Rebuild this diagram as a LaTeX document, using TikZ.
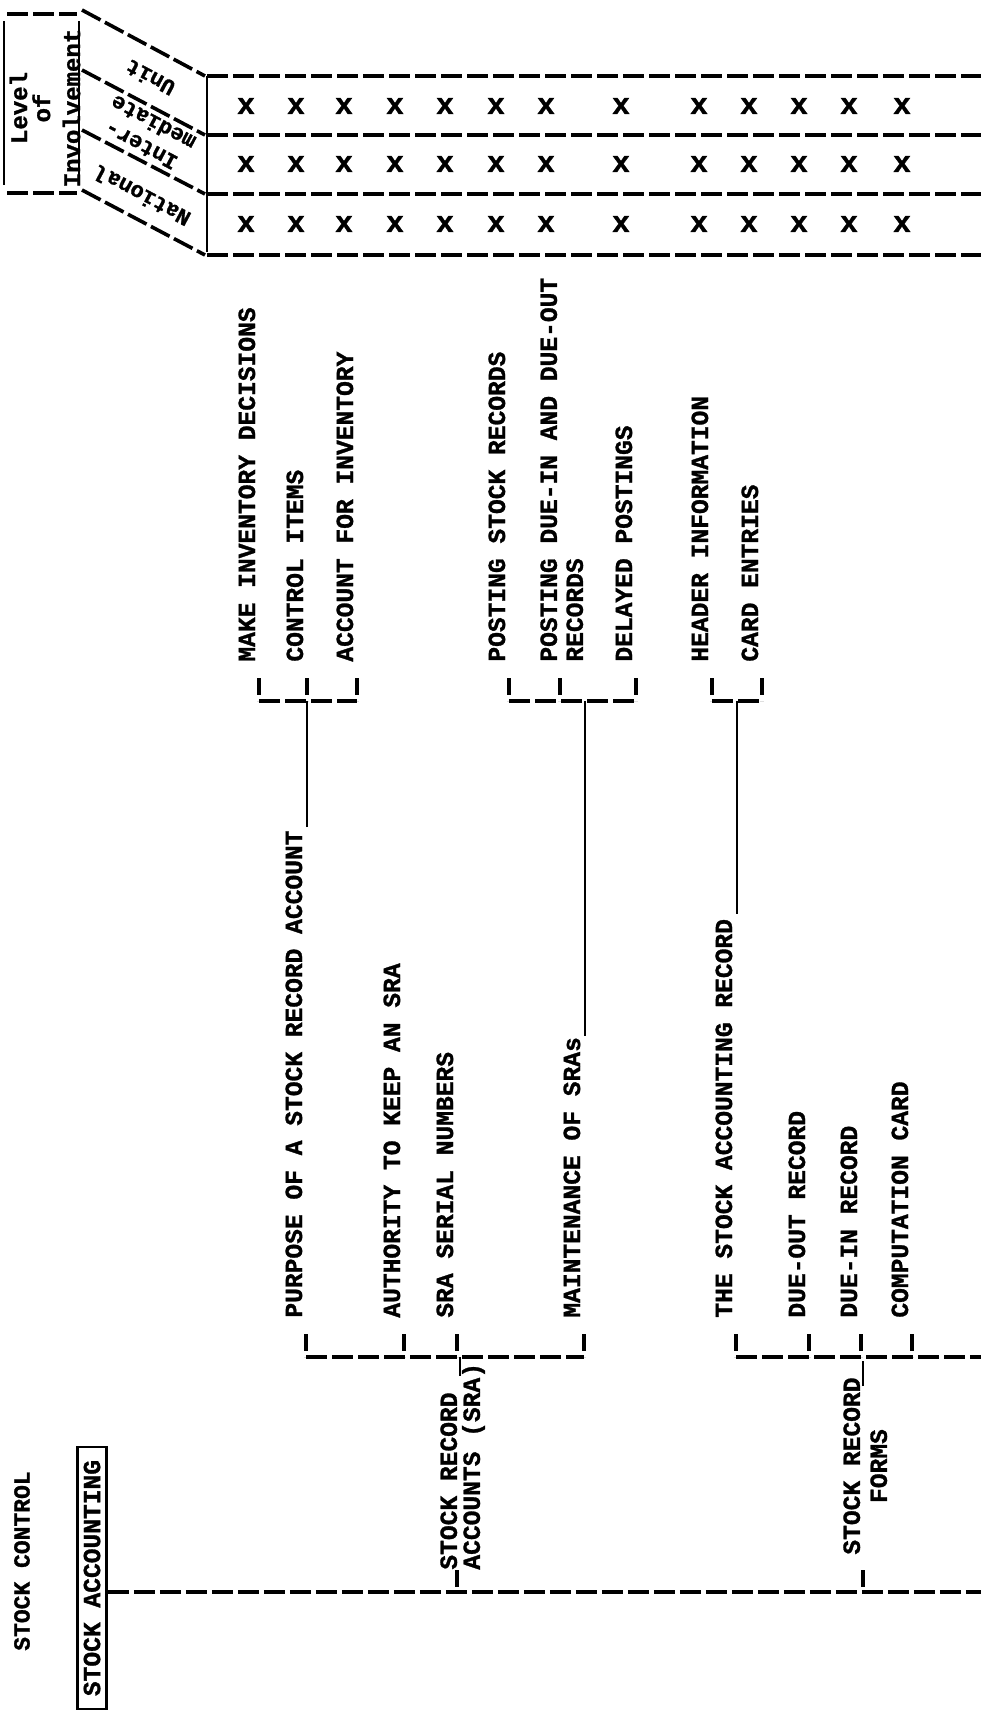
\documentclass[tikz,border=0pt]{standalone}
\usepackage{fontspec}
\newfontfamily\typefont[BoldFeatures={FakeBold=1.2}]{Liberation Mono}
\usetikzlibrary{positioning,calc}

\tikzset{
  dline/.style={line width=1.8pt, dash pattern=on 10.5pt off 2.5pt},
  tickline/.style={line width=1.8pt, dash pattern=on 8.5pt off 3pt},
  sline/.style={line width=1.4pt},
  item/.style={rotate=90, anchor=base west, inner sep=0pt,
    font=\typefont\bfseries\fontsize{12.3}{13}\selectfont},
  twoline/.style={item, anchor=north west, align=left},
  level/.style={rotate=152, inner sep=0pt, align=center,
    font=\typefont\bfseries\fontsize{11}{13}\selectfont},
  xmark/.style={inner sep=0pt, font=\typefont\bfseries\fontsize{15}{15}\selectfont},
  stubtop/.style={xshift=2pt, yshift=-8pt},
  stubfoot/.style={xshift=2pt, yshift=-19.5pt}
}

\begin{document}
\begin{tikzpicture}[x=0.5pt, y=-0.5pt]
  \useasboundingbox (0,0) rectangle (981,1714);

  % Level of involvement header
  \draw[sline] (4,21) -- (4,185) (79,21) -- (79,185);
  \draw[dline] (7,14) -- (77,14) (7,193) -- (77,193);
  \node[rotate=90, inner sep=0pt, align=center,
    font=\typefont\bfseries\fontsize{12}{11.5}\selectfont] (lvl) at (45,108)
    {Level\\of\\[3.5pt]Involvement};
  \foreach \a/\b in {10/76, 70/135, 130/194, 190/255}
    \draw[dline] (82,\a) -- (205,\b);
  \foreach \y in {76,135,194,255}
    \draw[dline] (207,\y) -- (981,\y);
  \draw[sline] (207,76) -- (207,252);
  \node[level] (unit) at (150,78) {Unit};
  \node[level] (inter) at (147,134) {Inter-\\mediate};
  \node[level] (natl) at (142,196) {National};
  \foreach \x in {246,296,344,395,445,496,546,621,699,749,799,849,902}
    \foreach \y in {106,164,224}
      \node[xmark] (x\x-\y) at (\x,\y) {x};

  % root
  \node[rotate=90, inner sep=0pt, font=\typefont\bfseries\fontsize{11.5}{12}\selectfont]
    (stockctl) at (22,1561) {STOCK CONTROL};
  \node[rotate=90, draw, sline, inner sep=0pt, minimum width=131pt, minimum height=14.5pt,
    font=\typefont\bfseries\fontsize{12.3}{13}\selectfont] (stockacc) at (92,1578) {STOCK ACCOUNTING};
  \coordinate (trunkend) at (981,1592);
  \draw[dline] ([yshift=-7pt]stockacc.south) -- (trunkend);

  % stock record accounts
  \node[twoline] (sra) at (440,1570) {STOCK RECORD\\[-1.5pt]ACCOUNTS (SRA)};
  \node[item] (purpose) at (302,1318) {PURPOSE OF A STOCK RECORD ACCOUNT};
  \node[item] (auth) at (400,1318) {AUTHORITY TO KEEP AN SRA};
  \node[item] (serial) at (453,1318) {SRA SERIAL NUMBERS};
  \node[item] (maint) at (580,1318) {MAINTENANCE OF SRAs};
  \coordinate (sraL) at ([xshift=8.5pt]sra.north west);
  \coordinate (sraU) at ([xshift=10pt,yshift=-6.5pt]sra.north east);
  \coordinate (sraBar) at ([stubfoot]purpose.base west);
  \draw[tickline] (sraL) -- (sraL |- trunkend);
  \draw[sline] (sraU) -- (sraU |- sraBar);
  \draw[dline] (sraBar) -- ([stubfoot]maint.base west);
  \foreach \c in {purpose,auth,serial,maint}
    \draw[tickline] ([stubtop]\c.base west) -- ([stubfoot]\c.base west);

  % purpose
  \node[item] (make) at (255,662) {MAKE INVENTORY DECISIONS};
  \node[item] (ctrl) at (303,662) {CONTROL ITEMS};
  \node[item] (acct) at (353,662) {ACCOUNT FOR INVENTORY};
  \coordinate (purBar) at ([stubfoot]make.base west);
  \coordinate (purEnd) at ([xshift=2.5pt,yshift=1.5pt]purpose.base east);
  \draw[dline] (purBar) -- ([stubfoot]acct.base west);
  \foreach \c in {make,ctrl,acct}
    \draw[tickline] ([stubtop]\c.base west) -- ([stubfoot]\c.base west);
  \draw[sline] (purEnd) -- (purEnd |- purBar);

  % maintenance
  \node[item] (pstock) at (505,662) {POSTING STOCK RECORDS};
  \node[twoline] (pdue) at (540,662) {POSTING DUE-IN AND DUE-OUT\\RECORDS};
  \node[item] (delay) at (632,662) {DELAYED POSTINGS};
  \coordinate (maintBar) at ([stubfoot]pstock.base west);
  \coordinate (maintEnd) at ([xshift=2.5pt,yshift=0.5pt]maint.base east);
  \draw[dline] (maintBar) -- ([stubfoot]delay.base west);
  \foreach \c in {pstock,delay}
    \draw[tickline] ([stubtop]\c.base west) -- ([stubfoot]\c.base west);
  \draw[tickline] ([xshift=10pt,yshift=-8pt]pdue.north west) -- ([xshift=10pt,yshift=-19.5pt]pdue.north west);
  \draw[sline] (maintEnd) -- (maintEnd |- maintBar);

  % stock record forms
  \node[twoline, align=center] (forms) at (843,1555) {STOCK RECORD\\[0.5pt]FORMS};
  \node[item] (sarec) at (732,1318) {THE STOCK ACCOUNTING RECORD};
  \node[item] (dueout) at (805,1318) {DUE-OUT RECORD};
  \node[item] (duein) at (857,1318) {DUE-IN RECORD};
  \node[item] (comp) at (908,1318) {COMPUTATION CARD};
  \coordinate (formsL) at ([xshift=10pt,yshift=-7.5pt]forms.north west);
  \coordinate (formsU) at ([xshift=10pt,yshift=-4.5pt]forms.north east);
  \coordinate (formsBar) at ([stubfoot]sarec.base west);
  \draw[tickline] (formsL) -- (formsL |- trunkend);
  \draw[sline] (formsU) -- ([yshift=-2pt]formsU |- formsBar);
  \draw[dline] (formsBar) -- (formsBar -| trunkend);
  \foreach \c in {sarec,dueout,duein,comp}
    \draw[tickline] ([stubtop]\c.base west) -- ([stubfoot]\c.base west);

  % stock accounting record
  \node[item] (header) at (708,662) {HEADER INFORMATION};
  \node[item] (card) at (758,662) {CARD ENTRIES};
  \coordinate (recBar) at ([stubfoot]header.base west);
  \coordinate (recEnd) at ([xshift=2.5pt,yshift=2.5pt]sarec.base east);
  \draw[dline] (recBar) -- ([stubfoot]card.base west);
  \foreach \c in {header,card}
    \draw[tickline] ([stubtop]\c.base west) -- ([stubfoot]\c.base west);
  \draw[sline] (recEnd) -- (recEnd |- recBar);
\end{tikzpicture}
\end{document}
